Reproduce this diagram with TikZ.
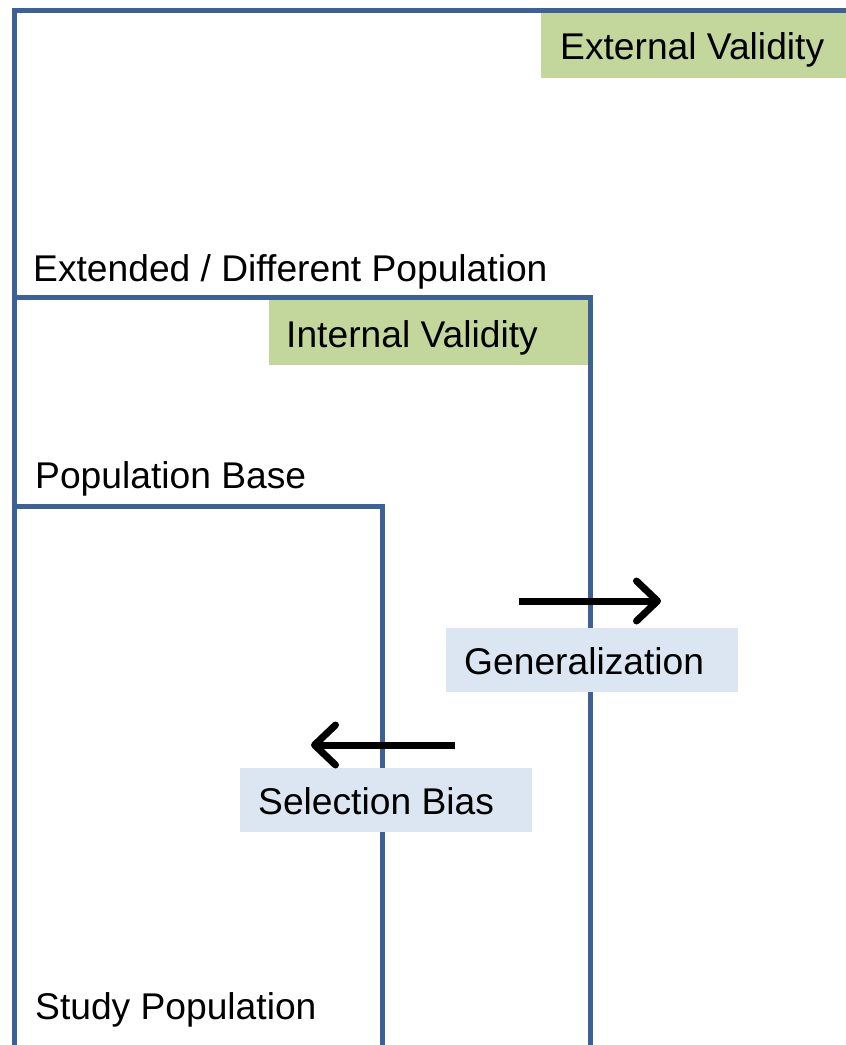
\documentclass[tikz,border=0pt]{standalone}
\usepackage{fontspec}
\setmainfont{Liberation Sans}
\usetikzlibrary{arrows.meta}
\definecolor{frameblue}{HTML}{3D6193}
\definecolor{validgreen}{HTML}{C3D69B}
\definecolor{notefill}{HTML}{DCE6F2}
\begin{document}
\begin{tikzpicture}[x=1pt,y=-1pt,
  frame/.style={draw=frameblue,line width=5pt},
  tagbox/.style={fill=validgreen,draw=none,inner sep=0pt,anchor=north west},
  notebox/.style={fill=notefill,draw=none,inner sep=0pt,anchor=north west},
  caption/.style={anchor=base west,inner sep=0pt,font=\fontsize{37.2}{44}\selectfont},
  flow/.style={line width=7pt,-{Straight Barb[length=21pt,width=40pt,round]}}]
\useasboundingbox (0,0) rectangle (846,1045);

% validity tags
\node[tagbox,minimum width=305pt,minimum height=66pt] (extTag) at (541,12) {};
\node[tagbox,minimum width=319pt,minimum height=66pt] (intTag) at (269,299) {};

% nested population frames
\draw[frame] (14.7,1050) -- (14.7,10) -- (850,10);
\draw[frame] (14.7,297) -- (590,297) -- (590,1050);
\draw[frame] (14.7,506) -- (382,506) -- (382,1050);

% notes over the frame edges
\node[notebox,minimum width=292pt,minimum height=64pt] (genBox) at (446,628) {};
\node[notebox,minimum width=292pt,minimum height=64pt] (selBox) at (240,768) {};

% texts
\node[caption] (extText) at (560,59) {External Validity};
\node[caption] (extPop) at (33,281) {Extended / Different Population};
\node[caption] (intText) at (286,347) {Internal Validity};
\node[caption] (basePop) at (35,488) {Population Base};
\node[caption] (genText) at (464,674) {Generalization};
\node[caption] (selText) at (258,814) {Selection Bias};
\node[caption] (studyPop) at (35,1019) {Study Population};

% direction arrows
\coordinate (genStart) at (519,601);
\coordinate (genEnd) at (661,601);
\coordinate (selStart) at (455,745);
\coordinate (selEnd) at (311,745);
\draw[flow] (genStart) -- (genEnd);
\draw[flow] (selStart) -- (selEnd);
\end{tikzpicture}
\end{document}
